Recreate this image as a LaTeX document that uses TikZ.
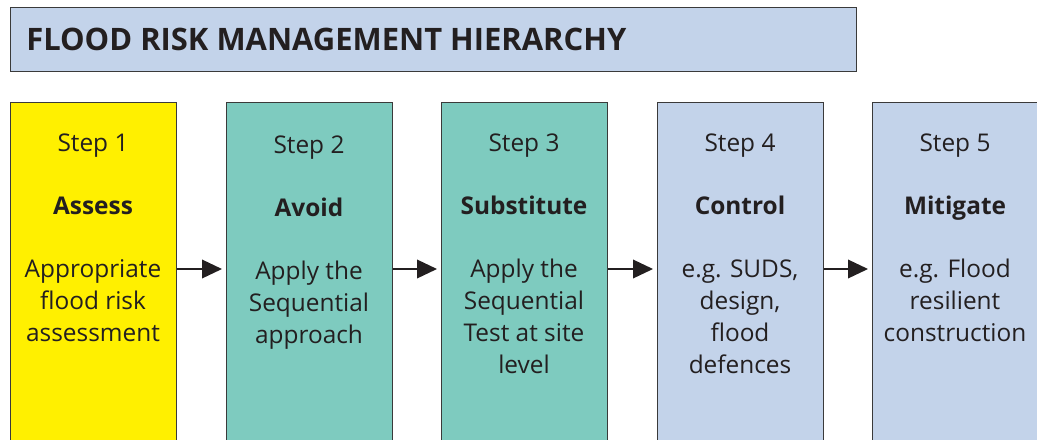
\documentclass[tikz,border=0pt]{standalone}
\usepackage{fontspec}
\setmainfont{Open Sans}
\usetikzlibrary{arrows.meta}
\definecolor{floodblue}{HTML}{C3D3EA}
\definecolor{floodteal}{HTML}{7ECBBF}
\definecolor{floodyellow}{HTML}{FFF000}
\definecolor{edgegray}{HTML}{3A3A3A}
\definecolor{inkgray}{HTML}{231F20}
\begin{document}
\begin{tikzpicture}[x=0.75pt,y=-0.75pt,
  stepbox/.style={draw=edgegray,line width=0.8pt,anchor=north west,inner sep=0,
    minimum width=124.5pt,minimum height=262.5pt},
  steplabel/.style={text=inkgray,anchor=base,font=\fontsize{18.3}{24}\selectfont},
  stepname/.style={text=inkgray,anchor=base,font=\fontsize{18.3}{24}\selectfont\bfseries},
  stepbody/.style={text=inkgray,font=\fontsize{18.3}{24}\selectfont,align=center,
    anchor=north,inner sep=0},
  flow/.style={-{Triangle[length=15pt,width=14pt]},line width=1.1pt,draw=inkgray,shorten >=3pt}]
\useasboundingbox (0,0) rectangle (1037,439);
\clip (0,0) rectangle (1037,439);
% heading
\node[draw=edgegray,line width=0.8pt,fill=floodblue,anchor=north west,inner sep=0,
  minimum width=634.5pt,minimum height=48pt] (title) at (10,7) {};
\node[anchor=base west,inner sep=0,text=inkgray,font=\fontsize{23.2}{26}\selectfont\bfseries] (heading) at (26,50) {FLOOD RISK MANAGEMENT HIERARCHY};
% the five steps
\node[stepbox,fill=floodyellow] (b1) at (10,102) {};
\node[stepbox,fill=floodteal] (b2) at (226,102) {};
\node[stepbox,fill=floodteal] (b3) at (441,102) {};
\node[stepbox,fill=floodblue] (b4) at (657,102) {};
\node[stepbox,fill=floodblue] (b5) at (872,102) {};
\node[steplabel] (s1) at (93,151) {Step 1};
\node[steplabel] (s2) at (309,153) {Step 2};
\node[steplabel] (s3) at (524,151) {Step 3};
\node[steplabel] (s4) at (740,151) {Step 4};
\node[steplabel] (s5) at (955,151) {Step 5};
\node[stepname] (n1) at (93,214) {Assess};
\node[stepname] (n2) at (309,216) {Avoid};
\node[stepname] (n3) at (524,214) {Substitute};
\node[stepname] (n4) at (740,214) {Control};
\node[stepname] (n5) at (955,214) {Mitigate};
% body text: the strut puts the first baseline 22.4px below the top
\node[stepbody] (t1) at (93,254.6) {\strut Appropriate\\flood risk\\assessment};
\node[stepbody] (t2) at (309,256.6) {\strut Apply the\\Sequential\\approach};
\node[stepbody] (t3) at (524,254.6) {\strut Apply the\\Sequential\\Test at site\\level};
\node[stepbody] (t4) at (740,254.6) {\strut e.g. SUDS,\\design,\\flood\\defences};
\node[stepbody] (t5) at (955,254.6) {\strut e.g. Flood\\resilient\\construction};
% arrows
\coordinate (row) at (0,269);
\draw[flow] (b1.east |- row) -- (b2.west |- row);
\draw[flow] (b2.east |- row) -- (b3.west |- row);
\draw[flow] (b3.east |- row) -- (b4.west |- row);
\draw[flow] (b4.east |- row) -- (b5.west |- row);
\end{tikzpicture}
\end{document}
